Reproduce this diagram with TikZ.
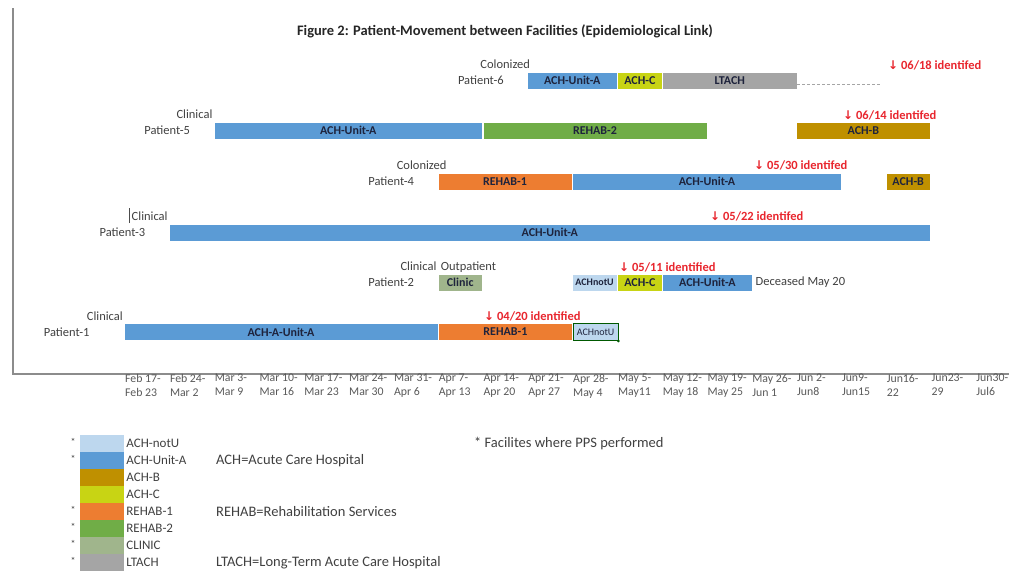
\documentclass[tikz,border=0pt]{standalone}
\usepackage{fontspec}
\setmainfont{Carlito}
\newfontfamily\arrowfont{DejaVu Sans}
\usetikzlibrary{positioning}
\definecolor{unitA}{RGB}{91,155,213}
\definecolor{notU}{RGB}{189,215,238}
\definecolor{achB}{RGB}{191,144,0}
\definecolor{achC}{RGB}{200,212,20}
\definecolor{rehab1}{RGB}{237,125,49}
\definecolor{rehab2}{RGB}{112,173,71}
\definecolor{clinic}{RGB}{160,181,140}
\definecolor{ltach}{RGB}{165,165,165}
\definecolor{idred}{RGB}{232,38,46}
\definecolor{txtgray}{RGB}{64,64,64}
\definecolor{barfont}{RGB}{30,35,60}
\newcommand{\dn}{{\arrowfont\fontsize{12}{12}\selectfont ↓}}

\begin{document}
\begin{tikzpicture}[x=1pt,y=-1pt,
  every node/.style={font=\fontsize{12.5}{14}\selectfont,text=txtgray},
  bar/.style={draw=white,line width=0.4pt,inner sep=0pt,minimum height=17pt,
    minimum width=#1*44.8pt,text=barfont,font=\bfseries\fontsize{12}{13}\selectfont},
  bar/.default=1,
  status/.style={inner sep=1pt,anchor=base east},
  ident/.style={inner sep=0pt,anchor=base west,text=idred,font=\bfseries\fontsize{12.5}{14}\selectfont},
  week/.style={anchor=north west,align=left,inner sep=1pt,text=black!65,font=\fontsize{11.8}{14}\selectfont},
  swatch/.style={inner sep=0pt,minimum width=44pt,minimum height=17pt},
  legtext/.style={anchor=west,inner sep=1pt,font=\fontsize{13}{15}\selectfont},
  legnote/.style={anchor=west,inner sep=1pt,font=\fontsize{14.5}{16}\selectfont}]
\useasboundingbox (0,0) rectangle (1009,574);
% frame
\draw[black!45,line width=1.5pt] (13,8) -- (13,374) -- (1009,374);
\node[font=\bfseries\fontsize{14.5}{17}\selectfont,text=black!85] (title) at (505,31)
  {Figure 2: Patient-Movement between Facilities (Epidemiological Link)};

% Patient-6
\node[bar=2,fill=unitA,anchor=west] (p6a) at (527.2,80.5) {ACH-Unit-A};
\node[bar,fill=achC,right=0pt of p6a] (p6b) {ACH-C};
\node[bar=3,fill=ltach,right=0pt of p6b] (p6c) {LTACH};
\coordinate (p6end) at (880,84);
\draw[ltach,densely dashed,line width=0.6pt] ([yshift=-3.5pt]p6c.east) -- (p6end);
\node[left=20pt of p6a] (n6) {Patient-6};
\node[status] (s6) at ([xshift=4pt,yshift=3pt]p6a.north west) {Colonized};
\node[ident] (i6) at (888,69) {\dn\ 06/18 identifed};

% Patient-5
\node[bar=6,fill=unitA,anchor=west] (p5a) at (213.6,130.5) {ACH-Unit-A};
\node[bar=5,fill=rehab2,right=0pt of p5a] (p5b) {REHAB-2};
\node[bar=3,fill=achB,anchor=west] (p5c) at (796,130.5) {ACH-B};
\node[left=20pt of p5a] (n5) {Patient-5};
\node[status] (s5) at ([yshift=3pt]p5a.north west) {Clinical};
\node[ident] (i5) at (843,119) {\dn\ 06/14 identifed};

% Patient-4
\node[bar=3,fill=rehab1,anchor=west] (p4a) at (437.6,181.5) {REHAB-1};
\node[bar=6,fill=unitA,right=0pt of p4a] (p4b) {ACH-Unit-A};
\node[bar,fill=achB,anchor=west] (p4c) at (885.6,181.5) {ACH-B};
\node[left=20pt of p4a] (n4) {Patient-4};
\node[status] (s4) at ([xshift=10pt,yshift=3pt]p4a.north west) {Colonized};
\node[ident] (i4) at (754,169) {\dn\ 05/30 identifed};

% Patient-3
\node[bar=17,fill=unitA,anchor=west] (p3a) at (168.8,232.5) {ACH-Unit-A};
\node[left=20pt of p3a] (n3) {Patient-3};
\node[status] (s3) at ([yshift=3pt]p3a.north west) {Clinical};
\draw[black!70,line width=1pt] ([xshift=-1.5pt,yshift=-1pt]s3.south west) -- ([xshift=-1.5pt,yshift=3pt]s3.north west);
\node[ident] (i3) at (710,220) {\dn\ 05/22 identifed};

% Patient-2
\node[bar,fill=clinic,anchor=west] (p2a) at (437.6,282.5) {Clinic};
\node[bar,fill=notU,anchor=west,font=\bfseries\fontsize{10}{11}\selectfont] (p2b) at (572,282.5) {ACHnotU};
\node[bar,fill=achC,right=0pt of p2b] (p2c) {ACH-C};
\node[bar=2,fill=unitA,right=0pt of p2c] (p2d) {ACH-Unit-A};
\node[anchor=west,inner sep=1pt] (dec) at ([xshift=2pt]p2d.east) {Deceased May 20};
\node[left=20pt of p2a] (n2) {Patient-2};
\node[status] (s2) at ([yshift=3pt]p2a.north west) {Clinical};
\node[status,anchor=base west] (o2) at ([xshift=2pt,yshift=3pt]p2a.north west) {Outpatient};
\node[ident] (i2) at (619,271) {\dn\ 05/11 identified};

% Patient-1
\node[bar=7,fill=unitA,anchor=west] (p1a) at (124,332) {ACH-A-Unit-A};
\node[bar=3,fill=rehab1,right=0pt of p1a] (p1b) {REHAB-1};
\node[bar,fill=notU,draw=green!35!black,line width=0.8pt,right=0pt of p1b,
  font=\fontsize{10}{11}\selectfont] (p1c) {ACHnotU};
\fill[green!35!black] (p1c.south east) circle (1.5pt);
\node[left=31pt of p1a] (n1) {Patient-1};
\node[status] (s1) at ([yshift=3pt]p1a.north west) {Clinical};
\node[ident] (i1) at (484,320) {\dn\ 04/20 identified};

% week axis
\foreach \a/\b [count=\i from 0] in {Feb 17-/Feb 23,Feb 24-/Mar 2,Mar 3-/Mar 9,
  Mar 10-/Mar 16,Mar 17-/Mar 23,Mar 24-/Mar 30,Mar 31-/Apr 6,Apr 7-/Apr 13,
  Apr 14-/Apr 20,Apr 21-/Apr 27,Apr 28-/May 4,May 5-/May11,May 12-/May 18,
  May 19-/May 25,May 26-/Jun 1,Jun 2-/Jun8,Jun9-/Jun15,Jun16-/22,Jun23-/29,Jun30-/Jul6}
  \node[week] (w\i) at (124+44.8*\i,373) {\a\\\b};

% legend
\foreach \nm/\cl/\st [count=\i from 0] in {ACH-notU/notU/*,ACH-Unit-A/unitA/*,
  ACH-B/achB/,ACH-C/achC/,REHAB-1/rehab1/*,REHAB-2/rehab2/*,CLINIC/clinic/*,LTACH/ltach/*}
{
  \node[swatch,fill=\cl] (sw\i) at (102,443.5+17*\i) {};
  \node[legtext,inner sep=2pt] (lg\i) at (sw\i.east) {\nm};
  \node[anchor=east,inner sep=1pt,font=\fontsize{10}{10}\selectfont] (st\i) at ([xshift=-3pt,yshift=2pt]sw\i.west) {\st};
}
\node[legnote] (d1) at (215,460.5) {ACH=Acute Care Hospital};
\node[legnote] (d4) at (215,511.5) {REHAB=Rehabilitation Services};
\node[legnote] (d7) at (215,562.5) {LTACH=Long-Term Acute Care Hospital};
\node[legnote] (pps) at (473,443.5) {* Facilites where PPS performed};
\end{tikzpicture}
\end{document}
